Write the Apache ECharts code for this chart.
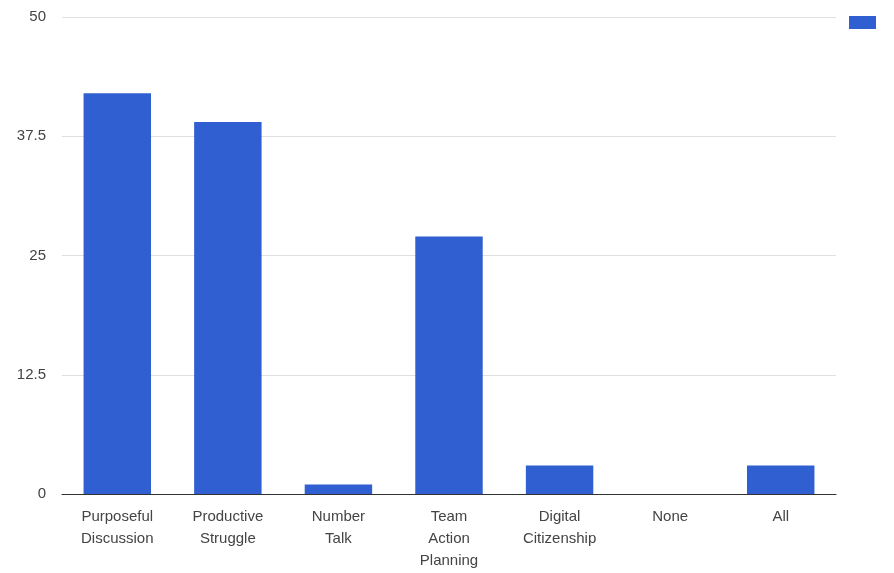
<!DOCTYPE html>
<html>
<head>
<meta charset="utf-8">
<script src="https://cdn.jsdelivr.net/npm/echarts@6/dist/echarts.min.js"></script>
<style>html,body{margin:0;padding:0;background:#fff;}#c{width:894px;height:573px;}</style>
</head>
<body>
<div id="c"></div>
<script>
const categories = ["Purposeful\nDiscussion", "Productive\nStruggle", "Number\nTalk", "Team\nAction\nPlanning", "Digital\nCitizenship", "None", "All"];
const values = [42, 39, 1, 27, 3, 0, 3];
const yTicks = [0, 12.5, 25, 37.5, 50];

const chart = echarts.init(document.getElementById('c'));
chart.setOption({
  animation: false,
  textStyle: { fontFamily: 'Liberation Sans, Arial, sans-serif' },
  legend: {
    show: true,
    right: 18,
    top: 16,
    padding: 0,
    itemWidth: 27,
    itemHeight: 13,
    itemGap: 0,
    data: [{ name: ' ', icon: 'rect' }],
    textStyle: { fontSize: 1, color: '#fff', padding: 0 },
    formatter: function () { return ''; }
  },
  grid: { left: 62, right: 58, top: 17, bottom: 79, containLabel: false },
  xAxis: {
    type: 'category',
    data: categories,
    axisTick: { show: false },
    axisLine: { lineStyle: { color: '#333', width: 1 } },
    axisLabel: { color: '#444', fontSize: 15, lineHeight: 22, margin: 12, interval: 0 }
  },
  yAxis: {
    type: 'value',
    min: 0,
    max: 50,
    interval: 12.5,
    axisLine: { show: false },
    axisTick: { show: false },
    splitLine: { lineStyle: { color: '#e0e0e0' } },
    axisLabel: {
      color: '#444', fontSize: 15, margin: 16,
      formatter: function (v) { return yTicks.indexOf(v) >= 0 ? String(v) : ''; }
    }
  },
  series: [{
    name: ' ',
    type: 'bar',
    data: values,
    barWidth: '61%',
    itemStyle: { color: '#2f5fd0' }
  }]
});
</script>
</body>
</html>
